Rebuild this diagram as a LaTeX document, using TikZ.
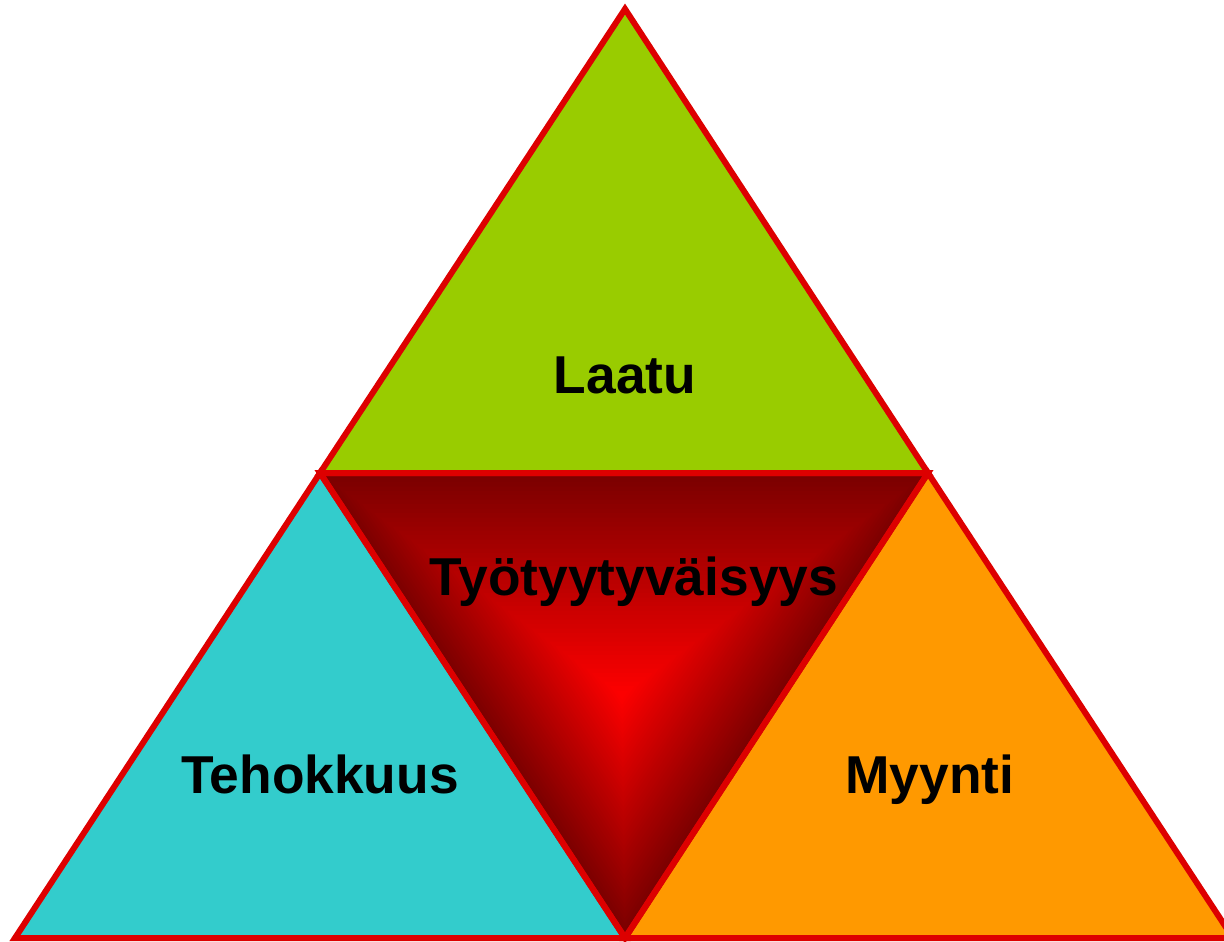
\documentclass[tikz,border=0pt]{standalone}
\usepackage{fontspec}
\setmainfont{Liberation Sans}
\usetikzlibrary{calc}
\definecolor{edgered}{HTML}{DD0000}
\definecolor{laatugreen}{HTML}{99CC00}
\definecolor{tehocyan}{HTML}{33CCCC}
\definecolor{myyntiorange}{HTML}{FF9900}
\definecolor{deepred}{HTML}{7A0000}
\begin{document}
\begin{tikzpicture}[x=0.75pt,y=-0.75pt,
  tri/.style={draw=edgered,line width=4.5pt,line join=miter},
  lbl/.style={font=\bfseries\fontsize{40}{44}\selectfont,text=black,inner sep=0pt,anchor=base}]
\useasboundingbox (0,0) rectangle (1224,942);
\clip (0,0) rectangle (1224,942);
\coordinate (T) at (625,9);
\coordinate (L) at (320,473);
\coordinate (R) at (928,473);
\coordinate (BL) at (15,938);
\coordinate (BM) at (625,938);
\coordinate (BR) at (1233,938);
\coordinate (C) at (622,695);
\fill[laatugreen] (T) -- (R) -- (L) -- cycle;
\fill[tehocyan] (L) -- (BM) -- (BL) -- cycle;
\fill[myyntiorange] (R) -- (BR) -- (BM) -- cycle;
\foreach \i in {0,...,50}{
  \pgfmathsetmacro{\s}{1-\i/50}
  \pgfmathsetmacro{\p}{100*\i/50}
  \fill[red!\p!deepred] ($(C)!\s!(L)$) -- ($(C)!\s!(R)$) -- ($(C)!\s!(BM)$) -- cycle;
}
\draw[tri] (T) -- (R) -- (L) -- cycle;
\draw[tri] (L) -- (BM) -- (BL) -- cycle;
\draw[tri] (R) -- (BR) -- (BM) -- cycle;
\draw[tri] (L) -- (R) -- (BM) -- cycle;
\node[lbl] (laatu) at (625,393) {Laatu};
\node[lbl] (tyo) at (634,595) {Työtyytyväisyys};
\node[lbl] (teho) at (320,793) {Tehokkuus};
\node[lbl] (myynti) at (930,793) {Myynti};
\end{tikzpicture}
\end{document}
